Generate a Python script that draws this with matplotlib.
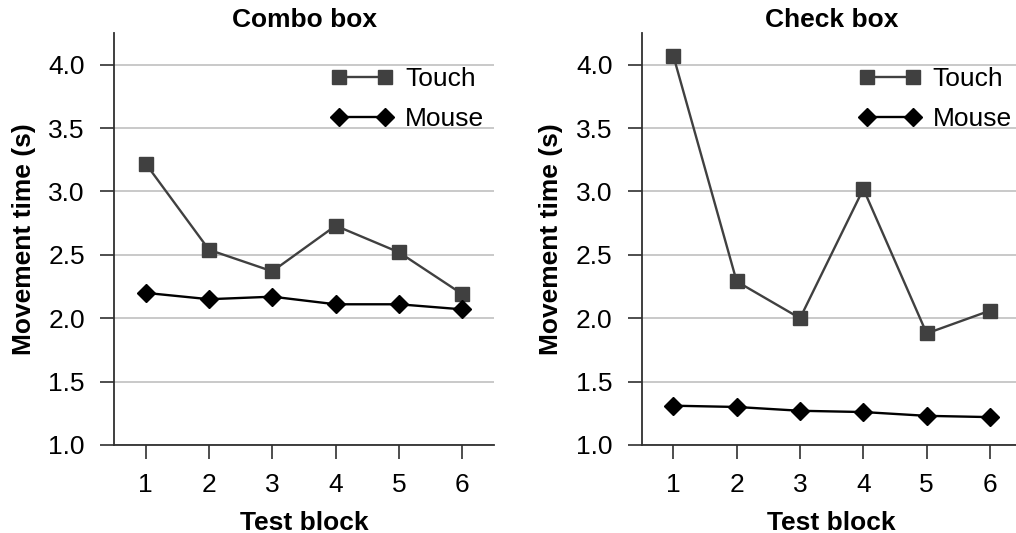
import numpy as np
from matplotlib import pyplot as plt

plt.rcParams['font.family'] = ['Liberation Sans', 'DejaVu Sans']

blocks = [1, 2, 3, 4, 5, 6]
titles = ["Combo box", "Check box"]

combo_touch = [3.22, 2.54, 2.37, 2.73, 2.52, 2.19]
combo_mouse = [2.20, 2.15, 2.17, 2.11, 2.11, 2.07]
check_touch = [4.07, 2.29, 2.00, 3.02, 1.88, 2.06]
check_mouse = [1.31, 1.30, 1.27, 1.26, 1.23, 1.22]

y_ticks = [1.0, 1.5, 2.0, 2.5, 3.0, 3.5, 4.0]

W, H = 1016, 533
fig = plt.figure(figsize=(W / 100, H / 100), dpi=100)

# axes boxes in pixels: left, right, top, bottom
boxes = [(114, 494, 33, 445), (641.7, 1021.7, 33, 445)]
data = [(combo_touch, combo_mouse), (check_touch, check_mouse)]

for (l, r, t, b), title, (touch, mouse) in zip(boxes, titles, data):
    ax = fig.add_axes([l / W, 1 - b / H, (r - l) / W, (b - t) / H])
    ax.plot(blocks, touch, color="#404040", lw=1.7, marker="s", ms=10,
            label="Touch", zorder=3)
    ax.plot(blocks, mouse, color="black", lw=1.7, marker="D", ms=9.5,
            label="Mouse", zorder=3)
    ax.set_xlim(0.5, 6.5)
    ax.set_ylim(1.0, 4.25)
    ax.set_xticks(blocks)
    ax.set_yticks(y_ticks)
    ax.set_yticklabels(["%.1f" % v for v in y_ticks])
    ax.yaxis.grid(True, color="#c0c0c0", lw=1.2)
    ax.set_axisbelow(True)
    for s in ["top", "right"]:
        ax.spines[s].set_visible(False)
    for s in ["left", "bottom"]:
        ax.spines[s].set_color("#303030")
        ax.spines[s].set_linewidth(1.3)
    ax.tick_params(axis="both", labelsize=19, length=10, width=1.2,
                   color="#303030")
    ax.tick_params(axis="y", pad=11)
    ax.tick_params(axis="x", pad=10)
    ax.set_title(title, fontsize=19, fontweight="bold", pad=4)
    ax.set_xlabel("Test block", fontsize=19, fontweight="bold", labelpad=10)
    ax.set_ylabel("Movement time (s)", fontsize=19, fontweight="bold",
                  labelpad=9)
    ax.legend(loc="upper right", bbox_to_anchor=(1.0, 0.94), frameon=False,
              fontsize=19, numpoints=2, handlelength=2.35, handletextpad=0.45,
              borderaxespad=0.17, labelspacing=0.58, borderpad=0.2)

plt.savefig("out.png", dpi=100)
